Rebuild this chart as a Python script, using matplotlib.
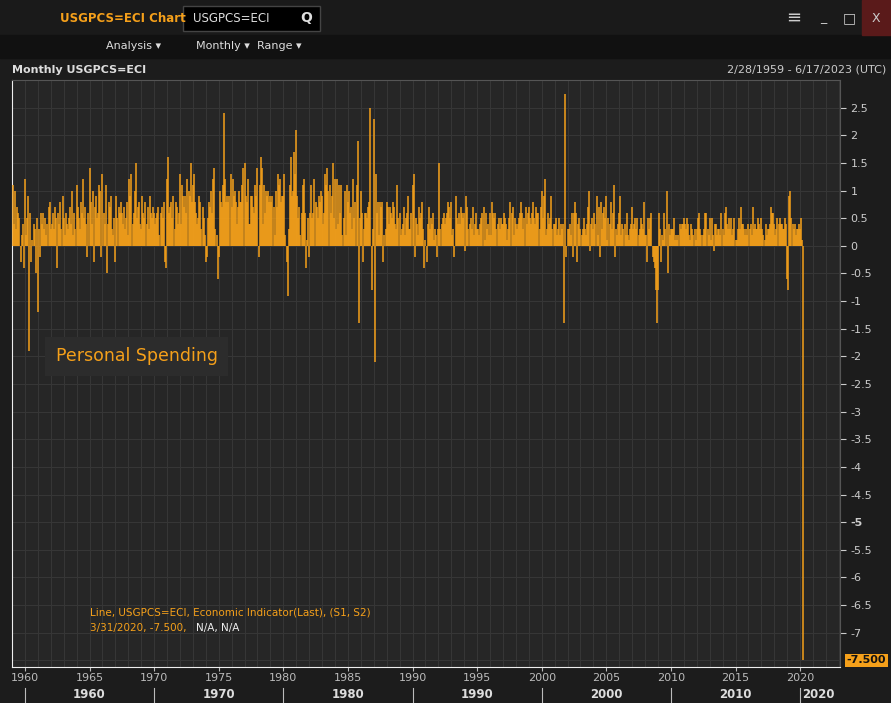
import numpy as np
import pandas as pd
import matplotlib
matplotlib.use("Agg")
import matplotlib.pyplot as plt
import matplotlib.transforms as mtransforms
from matplotlib.patches import Rectangle

# monthly % change, personal spending, Jan 1959 .. Mar 2020
YEAR_ROWS = {
    1959: [1.1, 0.4, 1.0, 0.3, 0.7, 0.6, 0.5, -0.3, 0.2, 0.4, -0.4, 1.2],
    1960: [0.2, 0.5, 0.9, -1.9, 0.6, -0.3, 0.1, 0.4, 0.3, -0.5, 0.5, -1.2],
    1961: [0.3, -0.2, 0.6, 0.4, 0.6, 0.3, 0.5, 0.2, 0.4, 0.7, 0.8, 0.3],
    1962: [0.4, 0.6, 0.3, 0.7, 0.5, -0.4, 0.6, 0.4, 0.8, 0.3, 0.9, 0.5],
    1963: [0.2, 0.6, 0.4, 0.3, 0.5, 0.7, 0.4, 1.0, 0.2, 0.6, 0.3, 1.1],
    1964: [0.7, 0.5, 0.3, 0.8, 0.6, 1.2, 0.5, 0.7, 0.4, -0.2, 0.6, 1.4],
    1965: [0.8, 0.4, 1.0, -0.3, 0.7, 0.9, 0.5, 0.6, 1.1, 1.0, -0.2, 1.3],
    1966: [0.6, 0.4, 1.1, -0.5, 0.4, 0.8, 0.7, 0.9, 0.3, 0.2, 0.5, -0.3],
    1967: [0.9, 0.5, 0.7, 0.6, 0.8, 0.6, 0.4, 0.7, 0.3, 0.5, 0.8, 0.2],
    1968: [1.2, 0.9, 1.3, 0.4, 0.6, 1.0, 1.5, 0.5, 0.7, 0.8, 0.4, 0.3],
    1969: [0.9, 0.6, 0.5, 0.8, 0.4, 0.7, 0.3, 0.9, 0.6, 0.5, 0.7, 0.6],
    1970: [0.4, 0.5, 0.6, 0.7, 0.2, 0.6, 0.7, 0.5, 0.8, -0.3, -0.4, 1.2],
    1971: [1.6, 0.6, 0.7, 0.8, 0.5, 0.9, 0.3, 0.8, 0.7, 0.4, 0.6, 1.3],
    1972: [0.4, 1.1, 0.9, 0.7, 0.9, 0.6, 1.2, 1.0, 0.9, 1.5, 0.8, 1.1],
    1973: [1.3, 0.8, 0.6, 0.4, 0.5, 0.9, 0.8, 0.3, 0.7, 0.5, 0.2, -0.3],
    1974: [-0.2, 0.5, 0.8, 0.7, 1.0, 0.6, 1.2, 1.4, 0.3, 0.2, -0.6, -0.2],
    1975: [1.0, 0.8, 0.7, 1.1, 2.4, 1.2, 0.8, 0.9, 0.8, 0.9, 1.3, 0.7],
    1976: [1.2, 0.9, 1.0, 0.8, 0.4, 0.7, 1.0, 0.8, 0.8, 1.1, 1.4, 1.5],
    1977: [0.9, 0.8, 1.2, 0.4, 0.4, 0.9, 0.9, 0.7, 0.6, 1.1, 0.9, 1.4],
    1978: [-0.2, 1.1, 1.6, 1.4, 0.4, 1.1, 0.6, 1.0, 0.9, 1.0, 0.8, 0.9],
    1979: [0.8, 0.9, 0.7, 0.2, 1.0, 0.7, 1.3, 1.1, 1.2, 0.8, 0.9, 0.9],
    1980: [1.3, 0.2, -0.3, -0.9, 0.3, 1.1, 1.6, 0.9, 1.0, 1.7, 1.3, 2.1],
    1981: [0.9, 0.5, 0.7, 0.2, 0.6, 1.1, 1.2, 0.6, -0.4, 0.1, 0.5, -0.2],
    1982: [0.6, 1.1, 0.5, 0.6, 1.2, 0.8, 0.7, 0.5, 0.9, 0.8, 1.0, 0.9],
    1983: [0.4, 0.6, 1.3, 1.1, 1.4, 1.0, 1.1, 0.6, 0.9, 1.5, 0.5, 1.2],
    1984: [0.3, 1.2, 0.4, 1.1, 0.6, 1.1, 0.2, 0.5, 1.0, 0.2, 1.1, 0.8],
    1985: [1.0, 0.6, 0.7, 0.3, 1.2, 0.5, 0.8, 1.1, 1.9, -1.4, 0.5, 1.0],
    1986: [0.6, -0.3, 0.3, 0.6, 0.6, 0.5, 0.7, 0.8, 2.5, -0.8, 0.3, 2.3],
    1987: [-2.1, 1.3, 0.6, 0.8, 0.2, 0.8, 0.7, 0.8, -0.3, 0.2, 0.3, 0.8],
    1988: [0.7, 0.4, 0.7, 0.6, 0.5, 0.8, 0.7, 0.4, 0.3, 1.1, 0.5, 0.6],
    1989: [0.2, 0.3, 0.4, 0.7, 0.2, 0.5, 0.6, 0.9, 0.3, 0.3, 0.6, 1.1],
    1990: [1.3, -0.2, 0.5, 0.4, 0.2, 0.7, 0.5, 0.6, 0.8, 0.3, -0.4, 0.1],
    1991: [-0.3, 0.4, 0.7, 0.3, 0.5, 0.4, 0.6, 0.1, 0.3, 0.2, -0.2, 0.3],
    1992: [1.5, 0.3, 0.4, 0.5, 0.6, 0.4, 0.5, 0.6, 0.8, 0.7, 0.5, 0.8],
    1993: [0.2, 0.3, -0.2, 0.9, 0.5, 0.4, 0.6, 0.4, 0.7, 0.6, 0.5, 0.6],
    1994: [-0.1, 0.9, 0.7, 0.3, 0.4, 0.5, 0.3, 0.7, 0.2, 0.4, 0.6, 0.3],
    1995: [0.3, 0.2, 0.4, 0.5, 0.6, 0.7, 0.1, 0.6, 0.3, 0.4, 0.2, 0.6],
    1996: [0.2, 0.8, 0.6, 0.5, 0.6, 0.3, 0.4, 0.5, 0.3, 0.5, 0.4, 0.4],
    1997: [0.6, 0.5, 0.4, 0.1, 0.3, 0.5, 0.8, 0.6, 0.7, 0.2, 0.5, 0.4],
    1998: [0.3, 0.4, 0.5, 0.6, 0.8, 0.6, 0.3, 0.5, 0.7, 0.4, 0.6, 0.7],
    1999: [0.5, 0.4, 0.6, 0.8, 0.5, 0.4, 0.7, 0.6, 0.6, 0.3, 0.7, 1.0],
    2000: [0.5, 0.9, 1.2, 0.2, 0.3, 0.6, 0.4, 0.5, 0.9, 0.3, 0.4, 0.4],
    2001: [0.5, 0.2, 0.3, 0.5, 0.2, 0.4, 0.3, 0.4, -1.4, 2.75, -0.2, 0.3],
    2002: [0.3, 0.4, 0.2, 0.6, -0.2, 0.6, 0.8, 0.6, -0.3, 0.4, 0.5, 0.3],
    2003: [0.2, 0.3, 0.5, 0.3, 0.2, 0.4, 0.7, 1.0, -0.1, 0.4, 0.5, 0.3],
    2004: [0.6, 0.4, 0.9, 0.2, 0.7, -0.2, 0.8, 0.3, 0.6, 0.7, 0.5, 0.9],
    2005: [0.1, 0.5, 0.4, 0.8, 0.3, 0.6, 1.1, -0.2, 0.3, 0.2, 0.4, 0.6],
    2006: [0.9, 0.2, 0.4, 0.3, 0.4, 0.2, 0.6, 0.2, 0.1, 0.3, 0.4, 0.7],
    2007: [0.3, 0.4, 0.5, 0.3, 0.5, 0.2, 0.3, 0.5, 0.4, 0.3, 0.8, 0.2],
    2008: [0.2, -0.3, 0.5, 0.3, 0.5, 0.6, -0.2, -0.3, -0.4, -0.8, -1.4, -0.8],
    2009: [0.6, 0.3, -0.3, 0.2, 0.1, 0.6, 0.3, 1.0, -0.5, 0.4, 0.2, 0.3],
    2010: [0.3, 0.3, 0.5, 0.1, 0.2, 0.1, 0.2, 0.4, 0.3, 0.4, 0.4, 0.5],
    2011: [0.4, 0.3, 0.5, 0.4, 0.2, 0.1, 0.4, 0.3, 0.2, 0.3, 0.1, 0.3],
    2012: [0.5, 0.6, 0.3, 0.2, 0.0, 0.2, 0.3, 0.6, 0.6, 0.3, 0.2, 0.5],
    2013: [0.1, 0.5, 0.2, -0.1, 0.4, 0.4, 0.2, 0.3, 0.3, 0.2, 0.6, 0.3],
    2014: [0.2, 0.6, 0.7, 0.4, 0.3, 0.5, 0.3, 0.5, 0.2, 0.3, 0.5, 0.1],
    2015: [0.1, 0.3, 0.5, 0.3, 0.7, 0.4, 0.4, 0.3, 0.2, 0.3, 0.2, 0.4],
    2016: [0.3, 0.4, 0.2, 0.7, 0.3, 0.4, 0.3, 0.3, 0.5, 0.4, 0.3, 0.5],
    2017: [0.3, 0.2, 0.1, 0.4, 0.2, 0.3, 0.3, 0.4, 0.7, 0.6, 0.6, 0.4],
    2018: [0.2, 0.3, 0.5, 0.4, 0.5, 0.4, 0.4, 0.3, 0.3, 0.5, 0.4, -0.6],
    2019: [-0.8, 0.9, 1.0, 0.5, 0.4, 0.3, 0.4, 0.2, 0.3, 0.3, 0.4, 0.3],
    2020: [0.5, 0.1, -7.5],
}

values = [v for y in sorted(YEAR_ROWS) for v in YEAR_ROWS[y]]
dates = pd.date_range("1959-01-31", periods=len(values), freq="ME")

Y_TICKS = [2.5, 2, 1.5, 1, 0.5, 0, -0.5, -1, -1.5, -2, -2.5, -3, -3.5, -4,
           -4.5, -5, -5.5, -6, -6.5, -7]
FIVE_YEARS = list(range(1960, 2021, 5))
DECADES = list(range(1960, 2021, 10))

ORANGE = "#f5a01a"
BG = "#262626"
W, H = 891, 703

fig = plt.figure(figsize=(W / 100, H / 100), dpi=100, facecolor="#1c1c1c")

# header bars
fig.patches.append(Rectangle((0, 1 - 35 / H), 1, 35 / H, transform=fig.transFigure,
                             color="#1a1a1a", zorder=0))
fig.patches.append(Rectangle((0, 1 - 58 / H), 1, 23 / H, transform=fig.transFigure,
                             color="#111111", zorder=0))
fig.patches.append(Rectangle((183 / W, 1 - 31 / H), 137 / W, 25 / H, transform=fig.transFigure,
                             color="#000000", ec="#444444", zorder=1))
fig.patches.append(Rectangle((862 / W, 1 - 35 / H), 29 / W, 35 / H, transform=fig.transFigure,
                             color="#5a1a1a", zorder=1))

def ftxt(x, y, s, **kw):
    fig.text(x / W, 1 - y / H, s, va="center", **kw)

ftxt(60, 18, "USGPCS=ECI Chart", color=ORANGE, fontsize=8.5, fontweight="bold")
ftxt(193, 18, "USGPCS=ECI", color="#dddddd", fontsize=8.5)
ftxt(300, 18, "Q", color="#dddddd", fontsize=10, fontweight="bold")
ftxt(820, 18, "_", color="#cccccc", fontsize=9)
ftxt(843, 18, "□", color="#cccccc", fontsize=10)
ftxt(872, 18, "X", color="#cccccc", fontsize=9)
ftxt(786, 18, "≡", color="#cccccc", fontsize=13)
ftxt(106, 46, "Analysis ▾", color="#dddddd", fontsize=8)
ftxt(196, 46, "Monthly ▾", color="#dddddd", fontsize=8)
ftxt(257, 46, "Range ▾", color="#dddddd", fontsize=8)
ftxt(12, 70, "Monthly USGPCS=ECI", color="#dddddd", fontsize=8, fontweight="bold")
ftxt(886, 70, "2/28/1959 - 6/17/2023 (UTC)", color="#cccccc", fontsize=8, ha="right")

ax = fig.add_axes([12 / W, 1 - 667 / H, 828 / W, 587 / H], facecolor=BG)
ax.vlines(dates, 0, values, color=ORANGE, linewidth=1.1, zorder=3)

ax.set_xlim(pd.Timestamp("1959-01-01"), pd.Timestamp("2023-02-01"))
ax.set_ylim(-7.62, 3.0)

# grid: yearly verticals, half-unit horizontals
for yr in range(1959, 2024):
    ax.axvline(pd.Timestamp(f"{yr}-01-01"), color="#363636", lw=0.8, zorder=1)
for yv in np.arange(-7.5, 3.0, 0.5):
    ax.axhline(yv, color="#363636", lw=0.8, zorder=1)

ax.yaxis.tick_right()
ax.set_yticks(Y_TICKS)
ax.set_yticklabels([f"{t:g}" for t in Y_TICKS])
ax.tick_params(axis="y", colors="#cccccc", labelsize=8, length=4, direction="out")
for lbl in ax.get_yticklabels():
    if lbl.get_text() == "-5":
        lbl.set_fontweight("bold")

ax.set_xticks([pd.Timestamp(f"{y}-01-01") for y in FIVE_YEARS])
ax.set_xticklabels([str(y) for y in FIVE_YEARS])
ax.tick_params(axis="x", colors="#bbbbbb", labelsize=8, length=3, pad=1)

trans = mtransforms.blended_transform_factory(ax.transData, fig.transFigure)
for d in DECADES:
    ax.text(pd.Timestamp(f"{d + 5}-01-01") if d < 2020 else pd.Timestamp("2021-06-01"),
            1 - 695 / H, str(d), transform=trans, color="#dddddd", fontsize=8.5,
            fontweight="bold", ha="center", va="center", clip_on=False)
    ax.plot([pd.Timestamp(f"{d}-01-01")] * 2, [1 - 688 / H, 1 - 702 / H], transform=trans,
            color="#bbbbbb", lw=0.8, clip_on=False)

for side in ["top", "right"]:
    ax.spines[side].set_color("#555555")
for side in ["left", "bottom"]:
    ax.spines[side].set_color("#eeeeee")

# legend label
ax.text(0.053, 0.529, "Personal Spending", transform=ax.transAxes, color=ORANGE,
        fontsize=12.5, va="center",
        bbox=dict(boxstyle="square,pad=0.6", fc="#2c2c2c", ec="none"), zorder=5)

ax.text(0.094, 0.092, "Line, USGPCS=ECI, Economic Indicator(Last), (S1, S2)",
        transform=ax.transAxes, color=ORANGE, fontsize=7.5, va="center", zorder=5)
ax.text(0.094, 0.066, "3/31/2020, -7.500,", transform=ax.transAxes, color=ORANGE,
        fontsize=7.5, va="center", zorder=5)
ax.text(0.222, 0.066, "N/A, N/A", transform=ax.transAxes, color="#eeeeee",
        fontsize=7.5, va="center", zorder=5)

ax.text(1.008, values[-1], f"{values[-1]:.3f}", transform=ax.get_yaxis_transform(),
        color="#111111", fontsize=8, fontweight="bold", va="center", ha="left",
        bbox=dict(boxstyle="square,pad=0.15", fc=ORANGE, ec="none"), clip_on=False, zorder=6)

fig.savefig("out.png", dpi=100, facecolor=fig.get_facecolor())
